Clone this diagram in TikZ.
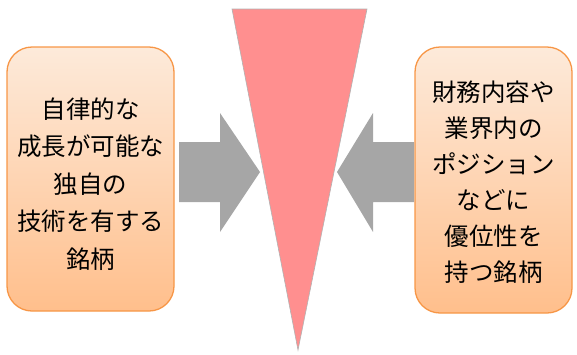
\documentclass[tikz,border=0pt]{standalone}
\usepackage{fontspec}
\newfontfamily\jpfont{Noto Sans CJK JP}
\definecolor{boxtop}{HTML}{FDEADA}
\definecolor{boxbot}{HTML}{FFBF8C}
\definecolor{boxline}{HTML}{F79646}
\definecolor{arrowgray}{HTML}{A6A6A6}
\definecolor{wedge}{HTML}{FF8F8F}
\begin{document}
\begin{tikzpicture}[x=1pt,y=-1pt,
  infobox/.style={draw=boxline, line width=1.3pt, rounded corners=25pt,
    top color=boxtop, bottom color=boxbot, inner sep=0pt},
  boxtext/.style={align=center, inner sep=0pt,
    font=\jpfont\fontsize{24.5}{37.5}\selectfont},
  pusharrow/.style={fill=arrowgray, draw=none}]
\useasboundingbox (0,0) rectangle (577,354);
% boxes
\node[infobox, minimum width=167pt, minimum height=264pt] (L) at (90.5,179) {};
\node[boxtext] (Lt) at (90.5,184) {自律的な\\成長が可能な\\独自の\\技術を有する\\銘柄};
\node[infobox, minimum width=157pt, minimum height=266pt] (R) at (493.5,180) {};
\node[boxtext, font=\jpfont\fontsize{24.5}{36}\selectfont] (Rt) at (493.5,182)
  {財務内容や\\業界内の\\ポジション\\などに\\優位性を\\持つ銘柄};
% wedge
\coordinate (w1) at (232,9);
\coordinate (w2) at (367,9);
\coordinate (w3) at (298,350);
\fill[wedge, draw=gray!60, line width=0.6pt] (w1) -- (w2) -- (w3) -- cycle;
% arrows
\fill[pusharrow] (179,142) -- (220,142) -- (220,113) -- (260,172) -- (220,232) -- (220,202) -- (179,202) -- cycle;
\fill[pusharrow] (414,142) -- (373,142) -- (373,113) -- (337,172) -- (373,232) -- (373,202) -- (414,202) -- cycle;
\end{tikzpicture}
\end{document}
